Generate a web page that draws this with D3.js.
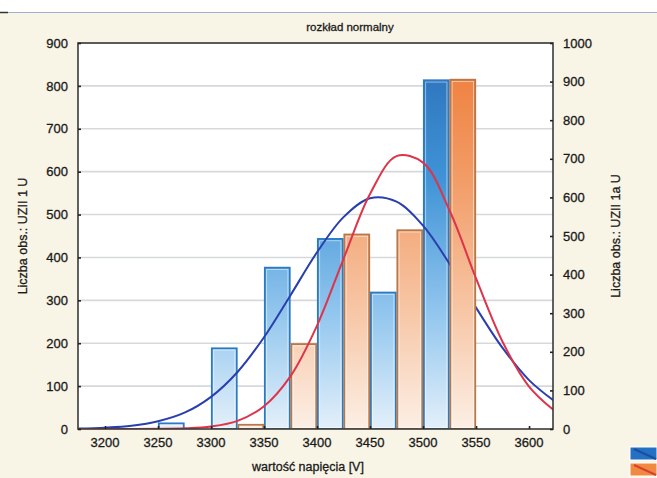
<!DOCTYPE html>
<html><head><meta charset="utf-8">
<script src="https://cdn.jsdelivr.net/npm/d3@7"></script>
<style>
body{margin:0;background:#f8f4e6}
svg{display:block}
text{font-family:Arial,"Liberation Sans",sans-serif;fill:#1a1a1a;stroke:#1a1a1a;stroke-width:0.3px}
</style>
</head><body><svg id="c" width="657" height="478"></svg>
<script>
// ---- data ----
const binStarts = [3250, 3300, 3350, 3400, 3450, 3500];
const binWidth = 50;
const countsUZII1 = [15, 190, 378, 445, 320, 815];   // left axis
const countsUZII1a = [0, 13, 222, 506, 517, 907];    // right axis
const fitX = [3175, 3200, 3225, 3250, 3275, 3300, 3325, 3350, 3375, 3400, 3425, 3450, 3475, 3500, 3525, 3550, 3575, 3600, 3625];
const fitUZII1 = [1, 3, 7.5, 18, 38, 75, 133, 214, 312, 412, 494, 538, 530, 474, 385, 283, 189, 114, 63];
const fitUZII1a = [0, 0, 0, 0.4, 1.7, 6.5, 21, 59, 137, 268, 441, 609, 707, 690, 566, 390, 226, 110, 45];
const xTickValues = [3200, 3250, 3300, 3350, 3400, 3450, 3500, 3550, 3600];
const leftTickValues = [0, 100, 200, 300, 400, 500, 600, 700, 800, 900];
const rightTickValues = [0, 100, 200, 300, 400, 500, 600, 700, 800, 900, 1000];
const titleText = "rozkład normalny";
const xTitle = "wartość napięcia [V]";
const leftTitle = "Liczba obs.: UZII 1 U";
const rightTitle = "Liczba obs.: UZII 1a U";

// ---- layout ----
const svg = d3.select("#c");
const P = {l: 78, r: 553, t: 43, b: 429};
const x = d3.scaleLinear().domain([3174.5, 3622.6]).range([P.l, P.r]);
const yL = d3.scaleLinear().domain([0, 900]).range([P.b, P.t]);
const yR = d3.scaleLinear().domain([0, 1000]).range([P.b, P.t]);

// background strips
svg.append("rect").attr("x",0).attr("y",0).attr("width",657).attr("height",12).attr("fill","#ffffff");
svg.append("line").attr("x1",0).attr("x2",657).attr("y1",12.5).attr("y2",12.5).attr("stroke","#9fb0cf").attr("stroke-width",1.2);
svg.append("line").attr("x1",0).attr("x2",8).attr("y1",12.5).attr("y2",12.5).attr("stroke","#333").attr("stroke-width",1.5);

const defs = svg.append("defs");
const gB = defs.append("linearGradient").attr("id","gB").attr("gradientUnits","userSpaceOnUse")
  .attr("x1",0).attr("x2",0).attr("y1",P.t).attr("y2",P.b);
[[0,"#2a6db6"],[0.35,"#3f93d6"],[0.7,"#92c6ee"],[1,"#e3f0fa"]].forEach(s=>gB.append("stop").attr("offset",s[0]).attr("stop-color",s[1]));
const gO = defs.append("linearGradient").attr("id","gO").attr("gradientUnits","userSpaceOnUse")
  .attr("x1",0).attr("x2",0).attr("y1",P.t).attr("y2",P.b);
[[0,"#ee7a36"],[0.35,"#f29c66"],[0.7,"#f7c7a7"],[1,"#fcefe5"]].forEach(s=>gO.append("stop").attr("offset",s[0]).attr("stop-color",s[1]));
defs.append("clipPath").attr("id","clip").append("rect")
  .attr("x",P.l).attr("y",P.t).attr("width",P.r-P.l).attr("height",P.b-P.t);

// plot area
svg.append("rect").attr("x",P.l).attr("y",P.t).attr("width",P.r-P.l).attr("height",P.b-P.t).attr("fill","#ffffff");

// gridlines
svg.append("g").selectAll("line").data(leftTickValues.slice(1)).join("line")
  .attr("x1",P.l).attr("x2",P.r).attr("y1",d=>yL(d)).attr("y2",d=>yL(d))
  .attr("stroke","#d6d9dc").attr("stroke-width",1.6);

const plot = svg.append("g").attr("clip-path","url(#clip)");
const half = (x(binWidth) - x(0)) / 2;

function bars(g, counts, y, offset, fill, stroke) {
  const data = binStarts.map((b,i)=>({b,v:counts[i]})).filter(d=>d.v>0);
  const gg = g.append("g");
  gg.selectAll("rect.bar").data(data).join("rect").attr("class","bar")
    .attr("x",d=>x(d.b)+offset+0.8).attr("width",half-1.6)
    .attr("y",d=>y(d.v)+0.8).attr("height",d=>y(0)-y(d.v)-0.8)
    .attr("fill",fill).attr("stroke",stroke).attr("stroke-width",1.8);
  gg.selectAll("rect.hl").data(data.filter(d=>y(0)-y(d.v)>6)).join("rect").attr("class","hl")
    .attr("x",d=>x(d.b)+offset+2.6).attr("width",half-5.2)
    .attr("y",d=>y(d.v)+2.6).attr("height",d=>y(0)-y(d.v)-4)
    .attr("fill","none").attr("stroke","rgba(255,255,255,0.55)").attr("stroke-width",0.9);
}

// series 1 bars + fit
bars(plot, countsUZII1, yL, 0, "url(#gB)", "#2a7ac4");
const line1 = d3.line().x((d,i)=>x(fitX[i])).y(d=>yL(d)).curve(d3.curveCatmullRom);
plot.append("path").attr("d",line1(fitUZII1)).attr("fill","none").attr("stroke","#2a3fae").attr("stroke-width",2);

// series 2 bars + fit
bars(plot, countsUZII1a, yR, half, "url(#gO)", "#b9784a");
const line2 = d3.line().x((d,i)=>x(fitX[i])).y(d=>yR(d)).curve(d3.curveCatmullRom);
plot.append("path").attr("d",line2(fitUZII1a)).attr("fill","none").attr("stroke","#de3449").attr("stroke-width",2);

// frame
svg.append("rect").attr("x",P.l).attr("y",P.t).attr("width",P.r-P.l).attr("height",P.b-P.t)
  .attr("fill","none").attr("stroke","#3a3a3a").attr("stroke-width",1.6);

// axes
const axL = svg.append("g").attr("transform",`translate(${P.l},0)`)
  .call(d3.axisRight(yL).tickValues(leftTickValues).tickSize(3).tickFormat(""));
const axR = svg.append("g").attr("transform",`translate(${P.r},0)`)
  .call(d3.axisLeft(yR).tickValues(rightTickValues).tickSize(3).tickFormat(""));
const axB = svg.append("g").attr("transform",`translate(0,${P.b})`)
  .call(d3.axisTop(x).tickValues(xTickValues).tickSize(3).tickFormat(""));
[axL,axR,axB].forEach(a=>{a.select(".domain").remove();a.selectAll("line").attr("stroke","#222").attr("stroke-width",1.6);});

// tick labels
svg.append("g").selectAll("text").data(leftTickValues).join("text")
  .attr("x",68).attr("y",d=>yL(d)).attr("dy","0.36em").attr("text-anchor","end")
  .attr("font-size",13).text(d=>d);
svg.append("g").selectAll("text").data(rightTickValues).join("text")
  .attr("x",563).attr("y",d=>yR(d)).attr("dy","0.36em").attr("text-anchor","start")
  .attr("font-size",13).text(d=>d);
svg.append("g").selectAll("text").data(xTickValues).join("text")
  .attr("x",d=>x(d)).attr("y",447).attr("text-anchor","middle")
  .attr("font-size",13).text(d=>d);

// titles
svg.append("text").attr("x",350).attr("y",31).attr("text-anchor","middle").attr("font-size",11.5).text(titleText);
svg.append("text").attr("x",308).attr("y",471).attr("text-anchor","middle").attr("font-size",12.5).text(xTitle);
svg.append("text").attr("transform",`translate(27,${(P.t+P.b)/2}) rotate(-90)`).attr("text-anchor","middle").attr("font-size",12.5).text(leftTitle);
svg.append("text").attr("transform",`translate(620,${(P.t+P.b)/2}) rotate(-90)`).attr("text-anchor","middle").attr("font-size",12.5).text(rightTitle);

// legend swatches
const legend = [{c1:"#2470c4",c2:"#1a4f9a",y:447},{c1:"#f08a40",c2:"#d9402e",y:463}];
legend.forEach(l=>{
  svg.append("rect").attr("x",630).attr("y",l.y).attr("width",27).attr("height",13).attr("fill",l.c1).attr("stroke","#ffffff").attr("stroke-width",1);
  svg.append("line").attr("x1",634).attr("y1",l.y+2).attr("x2",656).attr("y2",l.y+12).attr("stroke",l.c2).attr("stroke-width",2);
});
</script>
</body></html>
